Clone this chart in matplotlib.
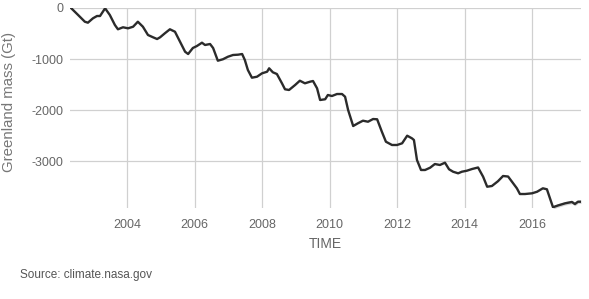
import matplotlib
matplotlib.use("Agg")
import matplotlib.pyplot as plt

# valores (ano decimal, massa em Gt)
anos = [2002.34, 2002.55, 2002.75, 2002.84, 2002.99, 2003.11, 2003.20, 2003.35, 2003.49, 2003.64,
        2003.73, 2003.88, 2004.03, 2004.18, 2004.32, 2004.47, 2004.62, 2004.77, 2004.89, 2004.98,
        2005.12, 2005.27, 2005.42, 2005.57, 2005.72, 2005.81, 2005.95, 2006.07, 2006.22, 2006.31,
        2006.46, 2006.55, 2006.69, 2006.84, 2006.99, 2007.14, 2007.29, 2007.41, 2007.49, 2007.58,
        2007.70, 2007.85, 2008.00, 2008.15, 2008.21, 2008.32, 2008.44, 2008.59, 2008.68, 2008.80,
        2008.98, 2009.12, 2009.27, 2009.42, 2009.51, 2009.63, 2009.72, 2009.87, 2009.95, 2010.07,
        2010.22, 2010.37, 2010.46, 2010.55, 2010.70, 2010.84, 2010.99, 2011.14, 2011.29, 2011.41,
        2011.55, 2011.67, 2011.85, 2012.00, 2012.15, 2012.30, 2012.44, 2012.50, 2012.59, 2012.71,
        2012.83, 2012.98, 2013.12, 2013.27, 2013.42, 2013.54, 2013.66, 2013.81, 2013.92, 2014.07,
        2014.22, 2014.40, 2014.55, 2014.67, 2014.81, 2014.99, 2015.14, 2015.29, 2015.44, 2015.55,
        2015.64, 2015.79, 2016.00, 2016.15, 2016.32, 2016.44, 2016.62, 2016.77, 2016.98, 2017.18,
        2017.27, 2017.36, 2017.45]
massa = [0, -137, -269, -288, -202, -157, -157, -6, -137, -333,
         -417, -378, -398, -367, -269, -367, -529, -574, -608, -574,
         -496, -417, -465, -661, -857, -902, -784, -745, -680, -725,
         -706, -784, -1033, -1005, -955, -921, -915, -902, -1019, -1215,
         -1366, -1347, -1280, -1249, -1182, -1260, -1294, -1476, -1593, -1607,
         -1509, -1425, -1476, -1445, -1431, -1574, -1803, -1789, -1705, -1725,
         -1686, -1686, -1739, -1999, -2313, -2260, -2209, -2229, -2176, -2181,
         -2425, -2621, -2685, -2685, -2652, -2503, -2554, -2587, -2979, -3175,
         -3175, -3130, -3058, -3077, -3032, -3161, -3209, -3240, -3209, -3189,
         -3156, -3126, -3307, -3503, -3489, -3395, -3293, -3303, -3436, -3534,
         -3646, -3646, -3632, -3601, -3534, -3553, -3905, -3870, -3828, -3802,
         -3842, -3797, -3797]

# incerteza (faixa cinza no final)
incerteza = 35

anos_ticks = [2004, 2006, 2008, 2010, 2012, 2014, 2016]
massa_ticks = [0, -1000, -2000, -3000]

plt.rcParams["font.family"] = ["Liberation Sans", "DejaVu Sans"]
plt.rcParams["axes.unicode_minus"] = False

cor_texto = "#666666"
cor_grade = "#d0d0d0"

fig = plt.figure(figsize=(5.89, 2.99), dpi=100)
ax = fig.add_axes([70 / 589, 1 - 208 / 299, 511 / 589, 200 / 299])

# faixa de incerteza so no trecho final
ini = 106
ax.fill_between(anos[ini:], [m - incerteza for m in massa[ini:]],
                [m + incerteza for m in massa[ini:]], color="#bbbbbb", alpha=0.6, lw=0)
ax.plot(anos, massa, color="#2b2b2b", linewidth=1.7, solid_joinstyle="round")

ax.set_xlim(2002.31, 2017.45)
ax.set_ylim(-3920, 0)
ax.set_xticks(anos_ticks)
ax.set_yticks(massa_ticks)
ax.set_xticklabels([str(a) for a in anos_ticks])
ax.set_yticklabels([str(m) for m in massa_ticks])

ax.grid(True, color=cor_grade, linewidth=0.9)
ax.set_axisbelow(True)
for lado in ax.spines:
    ax.spines[lado].set_visible(False)
ax.tick_params(axis="both", length=0, colors=cor_texto, labelsize=9)
ax.tick_params(axis="x", pad=8)
ax.tick_params(axis="y", pad=5)

fig.text(325.5 / 589, 1 - 244 / 299, "TIME", ha="center", va="center", fontsize=10, color=cor_texto)
fig.text(9 / 589, 1 - 102 / 299, "Greenland mass (Gt)", ha="center", va="center",
         rotation=90, fontsize=10.8, color="#777777")
fig.text(20 / 589, 1 - 275 / 299, "Source: climate.nasa.gov", ha="left", va="center",
         fontsize=8.5, color="#555555")

fig.savefig("out.png", dpi=100)
